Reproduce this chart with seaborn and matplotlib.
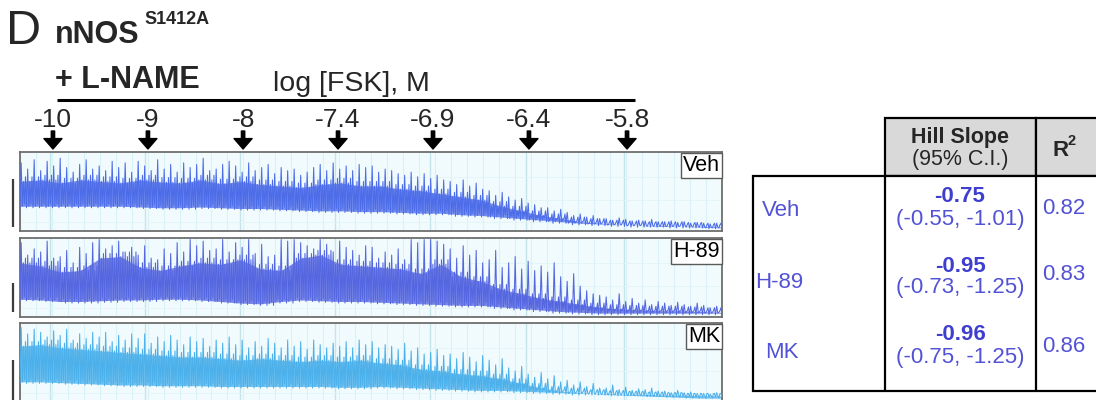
import numpy as np
import matplotlib
matplotlib.use("Agg")
import matplotlib.pyplot as plt
from matplotlib.patches import Rectangle
import seaborn as sns

sns.set_theme(style="white")
plt.rcParams["font.family"] = ["Liberation Sans", "DejaVu Sans"]

# ---- forskolin additions (minutes into the recording) ----
doses = ["-10", "-9", "-8", "-7.4", "-6.9", "-6.4", "-5.8"]
addition_min = [1.69, 6.56, 11.44, 16.31, 21.18, 26.10, 31.13]
record_min = 36.0

# ---- trace envelopes, % of panel height, 36 one-minute bins ----
veh_base = [30, 30, 30, 30, 30, 30, 29, 28, 28, 29, 28, 27, 27, 26, 25, 24, 24, 23,
            23, 22, 21, 21, 19, 18, 16, 14, 12, 10, 8, 7, 6, 5, 5, 4, 4, 3]
veh_core = [68, 70, 66, 70, 68, 66, 70, 67, 66, 70, 65, 68, 64, 62, 60, 64, 66, 62,
            62, 58, 56, 52, 48, 44, 36, 30, 24, 20, 16, 14, 12, 11, 10, 10, 9, 8]
veh_peaks = [88, 80, 92, 78, 90, 84, 94, 82, 76, 86, 92, 80, 84, 78, 90, 82, 88, 76,
             90, 84, 78, 92, 80, 86, 76, 88, 82, 86, 94, 78, 80, 86, 90, 84, 76, 88,
             78, 82, 86, 74, 82, 78, 80, 72, 76, 82, 86, 78, 88, 80, 84, 78, 86, 82,
             84, 76, 80, 78, 74, 72, 76, 70, 74, 68, 72, 66, 64, 60, 66, 58, 62, 54,
             52, 46, 50, 44, 40, 42, 36, 34, 30, 30, 26, 28, 24, 20, 22, 18, 20, 16,
             16, 14, 17, 15, 13, 14, 13, 15, 12, 12, 13, 11, 12, 10, 11, 10, 9, 10]

h89_base = [21, 20, 18, 18, 19, 20, 20, 21, 21, 20, 18, 16, 15, 18, 20, 19, 18, 18,
            17, 16, 15, 14, 13, 13, 11, 9, 7, 5, 4, 3, 3, 3, 3, 3, 3, 3]
h89_core = [74, 70, 62, 64, 80, 82, 68, 64, 70, 74, 72, 78, 66, 64, 80, 84, 72, 70,
            68, 66, 60, 72, 56, 50, 40, 34, 28, 24, 20, 16, 14, 13, 12, 12, 11, 10]
h89_peaks = [96, 80, 88, 84, 98, 76, 78, 86, 70, 90, 82, 96, 100, 88, 92, 98, 84, 90,
             80, 92, 76, 74, 88, 82, 96, 84, 100, 92, 98, 86, 88, 100, 84, 96, 90, 100,
             82, 94, 78, 80, 100, 98, 100, 96, 92, 88, 100, 94, 84, 98, 90, 86, 80, 92,
             90, 76, 84, 80, 88, 74, 100, 96, 100, 100, 98, 94, 88, 76, 92, 80, 86, 70,
             74, 86, 64, 70, 78, 62, 72, 60, 66, 58, 70, 52, 46, 56, 40, 34, 30, 28,
             26, 22, 30, 20, 24, 18, 22, 16, 20, 18, 15, 19, 16, 14, 18, 15, 12, 14]

mk_base = [24, 24, 23, 22, 21, 20, 20, 19, 19, 19, 18, 18, 18, 18, 18, 18, 17, 17,
           18, 17, 16, 15, 14, 13, 13, 12, 11, 10, 9, 9, 8, 8, 7, 7, 6, 6]
mk_core = [76, 78, 74, 72, 70, 68, 66, 64, 62, 62, 60, 58, 60, 58, 56, 58, 56, 58,
           54, 52, 46, 44, 40, 38, 34, 28, 22, 18, 16, 14, 13, 12, 11, 10, 9, 9]
mk_peaks = [96, 88, 94, 90, 84, 92, 86, 94, 80, 88, 82, 90, 84, 90, 78, 86, 80, 88,
            82, 88, 76, 84, 78, 86, 80, 74, 84, 78, 82, 72, 80, 76, 84, 74, 80, 70,
            78, 72, 82, 76, 70, 80, 72, 78, 68, 80, 74, 70, 76, 72, 78, 70, 80, 74,
            78, 70, 74, 72, 68, 76, 66, 70, 62, 64, 68, 60, 62, 56, 64, 58, 52, 60,
            54, 48, 56, 44, 40, 46, 36, 32, 38, 30, 34, 26, 28, 22, 26, 20, 24, 18,
            18, 22, 16, 19, 15, 17, 16, 18, 14, 14, 12, 15, 12, 13, 11, 11, 10, 12]

conditions = ["Veh", "H-89", "MK"]
trace_colors = ["#4d6ce8", "#5567e0", "#4cb0ea"]
fill_colors = ["#5f7bec", "#6574e4", "#5cb8ee"]

# ---- Hill fit summary ----
hill_slope = [-0.75, -0.95, -0.96]
ci_low = [-0.55, -0.73, -0.75]
ci_high = [-1.01, -1.25, -1.25]
r_squared = [0.82, 0.83, 0.86]

W, H = 1096, 400
fig = plt.figure(figsize=(W / 100, H / 100), dpi=100)
fig.patch.set_facecolor("white")

panel_left, panel_right = 20, 722
panel_rows = [(152, 231), (238, 317), (323, 402)]
scale_bars = [(179, 227), (283, 312), (360, 402)]

traces = [(veh_base, veh_core, veh_peaks),
          (h89_base, h89_core, h89_peaks),
          (mk_base, mk_core, mk_peaks)]


def fig_rect(x0, y_top, x1, y_bot):
    return [x0 / W, 1 - y_bot / H, (x1 - x0) / W, (y_bot - y_top) / H]


for (y_top, y_bot), name, color, fcol, (base, core, peaks) in zip(
        panel_rows, conditions, trace_colors, fill_colors, traces):
    ax = fig.add_axes(fig_rect(panel_left, y_top, panel_right, y_bot))
    ax.set_facecolor("#f1fbfd")
    # chart-recorder grid
    for g in np.arange(0.0, record_min, record_min / 44):
        ax.axvline(g, color="#d9f2f7", lw=0.8, zorder=0)
    for a in addition_min:
        ax.axvline(a - 0.15, color="#c4e4ea", lw=1.0, zorder=0)
    for hy in (12, 40, 70):
        ax.axhline(hy, color="#e2f4f8", lw=0.6, zorder=0)

    bins = np.linspace(0, record_min, len(base))
    ax.fill_between(bins, np.asarray(base) + 2, np.asarray(core) - 4,
                    color=fcol, alpha=0.85, lw=0, zorder=2)

    # beat-to-beat trace: large beats reach the listed peaks, smaller beats
    # in between stay within the dense band
    n = len(peaks)
    per = n // len(base)
    dt = record_min / n
    trough = np.repeat(base, per)
    band = np.repeat(core, per)
    xs, ys = [0.0], [trough[0]]
    for k in range(n):
        t0 = k * dt
        xs += [t0 + 0.18 * dt, t0 + 0.36 * dt, t0 + 0.52 * dt, t0 + 0.68 * dt,
               t0 + 0.84 * dt, t0 + dt]
        ys += [peaks[k], trough[k] + 2, band[k] - 4, trough[k] + 5,
               band[k] + 2, trough[k]]
    sns.lineplot(x=xs, y=ys, ax=ax, sort=False, estimator=None, color=color,
                 lw=0.75, zorder=3)

    ax.set_xlim(0, record_min)
    ax.set_ylim(0, 102)
    ax.set_xticks([])
    ax.set_yticks([])
    for sp in ax.spines.values():
        sp.set_visible(True)
        sp.set_color("#6e6e6e")
        sp.set_linewidth(1.3)
    ax.text(0.997, 0.96, name, transform=ax.transAxes, ha="right", va="top",
            fontsize=15.5, color="black", zorder=5,
            bbox=dict(boxstyle="square,pad=0.1", fc="white", ec="#5a5a5a", lw=1.0))

# ---- dose axis with arrows ----
ax_dose = fig.add_axes(fig_rect(panel_left, 60, panel_right, 150))
ax_dose.set_xlim(0, record_min)
ax_dose.set_ylim(150, 60)
ax_dose.axis("off")
ax_dose.plot([1.9, 31.54], [100, 100], color="black", lw=2.2, solid_capstyle="butt")
for t, d in zip(addition_min, doses):
    ax_dose.text(t, 127, d, ha="center", va="baseline", fontsize=19)
    ax_dose.annotate("", xy=(t, 149), xytext=(t, 131),
                     arrowprops=dict(facecolor="black", edgecolor="black", width=2.4,
                                     headwidth=13, headlength=7.5, shrink=0))
ax_dose.text((273 - panel_left) / (panel_right - panel_left) * record_min,
             91, "log [FSK], M", ha="left", va="baseline", fontsize=20.5)

# ---- overlay for titles, scale bars and the table ----
ov = fig.add_axes([0, 0, 1, 1])
ov.set_xlim(0, W)
ov.set_ylim(H, 0)
ov.axis("off")
ov.patch.set_alpha(0)

ov.text(6, 44, "D", fontsize=35, va="baseline", ha="left")
ov.text(55, 43, "nNOS", fontsize=22, fontweight="bold", va="baseline")
ov.text(144, 24, "S1412A", fontsize=13, fontweight="bold", va="baseline")
ov.text(55, 88, "+ L-NAME", fontsize=22, fontweight="bold", va="baseline")

for y0, y1 in scale_bars:
    ov.plot([13, 13], [y0, y1], color="#3c3c3c", lw=1.6, solid_capstyle="butt")

# table geometry (pixels)
col_x = [753, 885, 1036, 1110]
head_top, body_top, body_bot = 118, 176, 391
lw_t = 1.6
for x0, x1 in [(col_x[1], col_x[2]), (col_x[2], col_x[3])]:
    ov.add_patch(Rectangle((x0, head_top), x1 - x0, body_top - head_top,
                           facecolor="#d9d9d9", edgecolor="black", lw=lw_t))
ov.add_patch(Rectangle((col_x[0], body_top), col_x[3] - col_x[0], body_bot - body_top,
                       facecolor="white", edgecolor="black", lw=lw_t))
for xc in col_x[1:3]:
    ov.plot([xc, xc], [body_top, body_bot], color="black", lw=lw_t)

ov.text(960, 137, "Hill Slope", fontsize=15.5, fontweight="bold", ha="center", va="center")
ov.text(960, 160, "(95% C.I.)", fontsize=15.5, ha="center", va="center")
ov.text(1061, 150, "R", fontsize=16, fontweight="bold", ha="center", va="center")
ov.text(1068, 141, "2", fontsize=10.5, fontweight="bold", ha="left", va="center")

blue_bold = "#3f3fcf"
blue_txt = "#5252d6"
row_label_x = [762, 755, 765]
row_label_y = [210, 282, 352]
slope_y = [197, 267, 335]
ci_y = [219, 288, 357]
r2_y = [208, 275, 347]
for i, name in enumerate(conditions):
    ov.text(row_label_x[i], row_label_y[i], name, fontsize=16, color=blue_txt,
            ha="left", va="center")
    ov.text(960, slope_y[i], f"{hill_slope[i]:.2f}", fontsize=16, fontweight="bold",
            color=blue_bold, ha="center", va="center")
    ov.text(960, ci_y[i], f"({ci_low[i]:.2f}, {ci_high[i]:.2f})", fontsize=16,
            color=blue_txt, ha="center", va="center")
    ov.text(1064, r2_y[i], f"{r_squared[i]:.2f}", fontsize=16, color=blue_txt,
            ha="center", va="center")

fig.savefig("out.png", dpi=100, facecolor="white")
